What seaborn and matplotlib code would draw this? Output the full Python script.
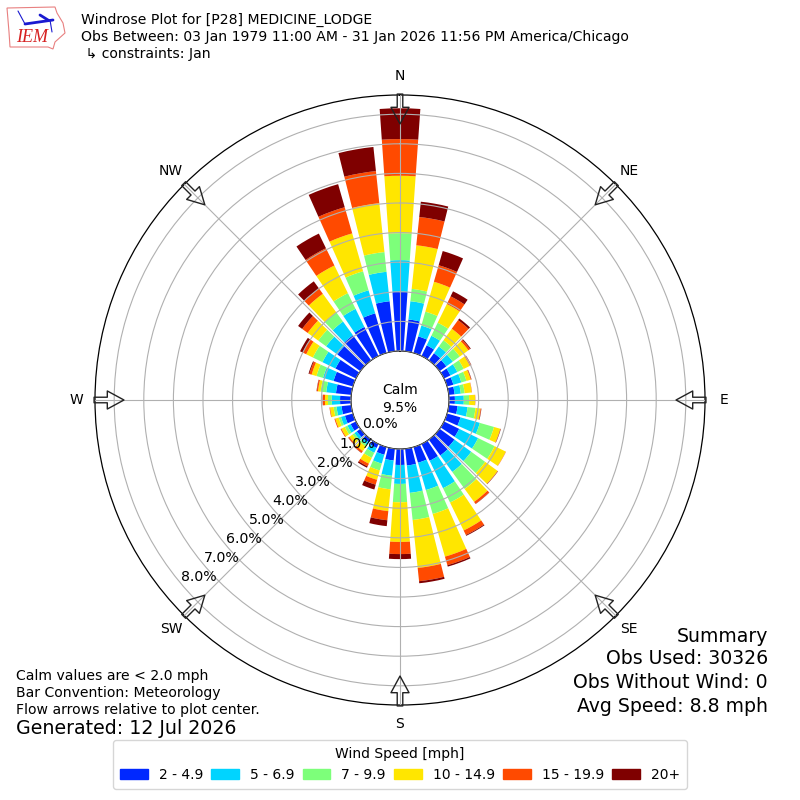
import matplotlib
matplotlib.use("Agg")
import matplotlib.pyplot as plt
from matplotlib.lines import Line2D
from matplotlib.patches import Patch, Polygon
import numpy as np
import pandas as pd
import seaborn as sns

# wind direction bins, degrees
directions = list(range(0, 360, 10))

# cumulative frequency (%) at the top of each speed bin
top_2_5 = [2.0, 1.08, .58, .4, .3, .28, .24, .22, .2, .2, .3, .47, .57, .62, .66, .63, .55, .57,
           .54, .4, .27, .15, .12, .15, .2, .28, .33, .37, .52, .68, .77, .96, 1.05, 1.09, 1.39, 1.7]
top_5_7 = [3.07, 1.7, .96, .76, .58, .55, .5, .5, .41, .5, .64, 1.15, 1.28, 1.32, 1.35, 1.66, 1.51, 1.5,
           1.18, .92, .58, .33, .22, .25, .32, .42, .5, .65, .85, 1.05, 1.26, 1.43, 1.62, 1.77, 2.2, 2.7]
top_7_10 = [3.98, 2.12, 1.45, 1.25, .84, .84, .74, .68, .54, .68, .91, 1.65, 1.9, 1.9, 2.06, 2.2, 2.35, 2.42,
            1.8, 1.38, .82, .52, .3, .33, .42, .5, .6, .78, 1.04, 1.28, 1.62, 1.76, 2.0, 2.36, 2.87, 3.37]
top_10_15 = [5.92, 3.6, 2.5, 1.95, 1.32, 1.2, .97, .83, .78, .88, 1.08, 1.87, 2.32, 2.42, 2.6, 3.25, 3.85, 4.05,
             3.14, 2.12, 1.15, .74, .48, .46, .55, .62, .72, .88, 1.13, 1.45, 1.87, 2.2, 2.78, 3.4, 4.2, 5.03]
top_15_20 = [7.16, 4.56, 3.08, 2.24, 1.68, 1.27, 1.02, .85, .79, .89, 1.1, 1.88, 2.33, 2.43, 2.68, 3.42, 4.15, 4.5,
             3.55, 2.43, 1.32, .84, .55, .5, .58, .65, .74, .95, 1.17, 1.53, 2.0, 2.43, 3.0, 4.05, 5.12, 6.12]
top_20_up = [8.2, 5.08, 3.58, 2.43, 1.75, 1.3, 1.03, .86, .79, .89, 1.11, 1.89, 2.33, 2.44, 2.69, 3.45, 4.2, 4.57,
             3.72, 2.63, 1.49, .89, .56, .51, .58, .65, .74, .96, 1.18, 1.56, 2.1, 2.6, 3.3, 4.6, 5.93, 6.94]

speed_labels = ["2 - 4.9", "5 - 6.9", "7 - 9.9", "10 - 14.9", "15 - 19.9", "20+"]
speed_colors = ["#0028ff", "#00d4ff", "#7dff7a", "#ffe600", "#ff4a00", "#7f0000"]
r_ticks = [0, 1, 2, 3, 4, 5, 6, 7, 8]
compass_angles = [0, 45, 90, 135, 180, 225, 270, 315]
compass_labels = ["N", "NE", "E", "SE", "S", "SW", "W", "NW"]

sns.set_style("white", {"text.color": "black", "axes.labelcolor": "black", "xtick.color": "black",
                        "ytick.color": "black", "axes.edgecolor": "black"})
plt.rcParams["font.family"] = ["DejaVu Sans"]

fig = plt.figure(figsize=(8, 8), dpi=100)
ax = fig.add_axes([95 / 800, 95 / 800, 610 / 800, 610 / 800], polar=True)
ax.set_theta_zero_location("N")
ax.set_theta_direction(-1)

# stack the speed bins, each one starts where the previous one ended
tops = [top_2_5, top_5_7, top_7_10, top_10_15, top_15_20, top_20_up]
bottom = np.zeros(len(directions))
palette = sns.color_palette(speed_colors)
for top, color in zip(tops, palette):
    top = np.array(top)
    df = pd.DataFrame({"theta": np.deg2rad(directions), "freq": top - bottom})
    sns.barplot(data=df, x="theta", y="freq", native_scale=True, ax=ax, color=color,
                width=0.8, errorbar=None, bottom=bottom, saturation=1, linewidth=0)
    bottom = top

ax.set_xlabel("")
ax.set_ylabel("")
ax.set_thetalim(0, 2 * np.pi)
ax.set_rorigin(-49 / 29.6)
ax.set_rmin(0)
ax.set_rmax(256 / 29.6)
ax.set_rticks(r_ticks)
ax.set_yticklabels([f"{t:.1f}%" for t in r_ticks], fontsize=10.2)
ax.set_rlabel_position(230)
ax.set_xticks(np.deg2rad(compass_angles))
ax.set_xticklabels(compass_labels, fontsize=10)
ax.tick_params(axis="x", pad=3.2)
ax.grid(True, color="#b0b0b0", linewidth=0.8)
ax.set_axisbelow(False)
ax.spines["polar"].set_color("black")
ax.spines["polar"].set_linewidth(0.9)

# flow arrows around the rim
for ang in compass_angles:
    ax.annotate("", xy=(np.deg2rad(ang), 7.67), xytext=(np.deg2rad(ang), 8.68), annotation_clip=False,
                arrowprops=dict(width=4, headwidth=13, headlength=12, fc="none", ec="#222222", lw=1))

fig.text(400 / 800, 1 - 399 / 800, "Calm\n9.5%", ha="center", va="center", fontsize=10, linespacing=1.3)

fig.text(81 / 800, 1 - 20 / 800, "Windrose Plot for [P28] MEDICINE_LODGE", fontsize=10.06, va="center")
fig.text(81 / 800, 1 - 37 / 800, "Obs Between: 03 Jan 1979 11:00 AM - 31 Jan 2026 11:56 PM America/Chicago",
         fontsize=10.06, va="center")
fig.text(81 / 800, 1 - 54 / 800, " \u21b3 constraints: Jan", fontsize=10.06, va="center")

summary = ["Summary", "Obs Used: 30326", "Obs Without Wind: 0", "Avg Speed: 8.8 mph"]
for line, y in zip(summary, [636, 659, 682, 706]):
    fig.text(768 / 800, 1 - y / 800, line, fontsize=13.6, ha="right", va="center")

notes = ["Calm values are < 2.0 mph", "Bar Convention: Meteorology", "Flow arrows relative to plot center."]
for line, y in zip(notes, [676, 693, 710]):
    fig.text(16 / 800, 1 - y / 800, line, fontsize=10.1, va="center")
fig.text(16 / 800, 1 - 729 / 800, "Generated: 12 Jul 2026", fontsize=13.7, va="center")

handles = [Patch(color=c) for c in palette]
fig.legend(handles, speed_labels, title="Wind Speed [mph]", ncol=6, loc="lower center",
           bbox_to_anchor=(0.5, 0.0056), fontsize=10, title_fontsize=10, frameon=True,
           columnspacing=0.58, borderpad=0.5)

# IEM logo, drawn by hand in pixel positions
px = lambda pts: [(x / 800, 1 - y / 800) for x, y in pts]
iowa = [(7, 8), (55, 7), (57, 13), (63, 23), (65, 33), (55, 42), (53, 49), (48, 47), (10, 47), (9, 32), (8, 20)]
fig.add_artist(Polygon(px(iowa), closed=True, fc="none", ec="#e88080", lw=0.8, transform=fig.transFigure))
fig.add_artist(Line2D(*zip(*px([(25, 24), (53, 20)])), color="#1a1ad0", lw=2, transform=fig.transFigure))
fig.add_artist(Line2D(*zip(*px([(18, 11), (25, 24)])), color="#1a1ad0", lw=0.8, transform=fig.transFigure))
fig.add_artist(Line2D(*zip(*px([(40, 15), (48, 20)])), color="#1a1ad0", lw=2, transform=fig.transFigure))
fig.add_artist(Line2D(*zip(*px([(50, 20), (52, 32)])), color="#1a1ad0", lw=0.8, transform=fig.transFigure))
fig.text(16 / 800, 1 - 38 / 800, "IEM", color="#d62020", fontsize=13, family="Liberation Serif", style="italic",
         va="center")

fig.savefig("out.png", dpi=100)
